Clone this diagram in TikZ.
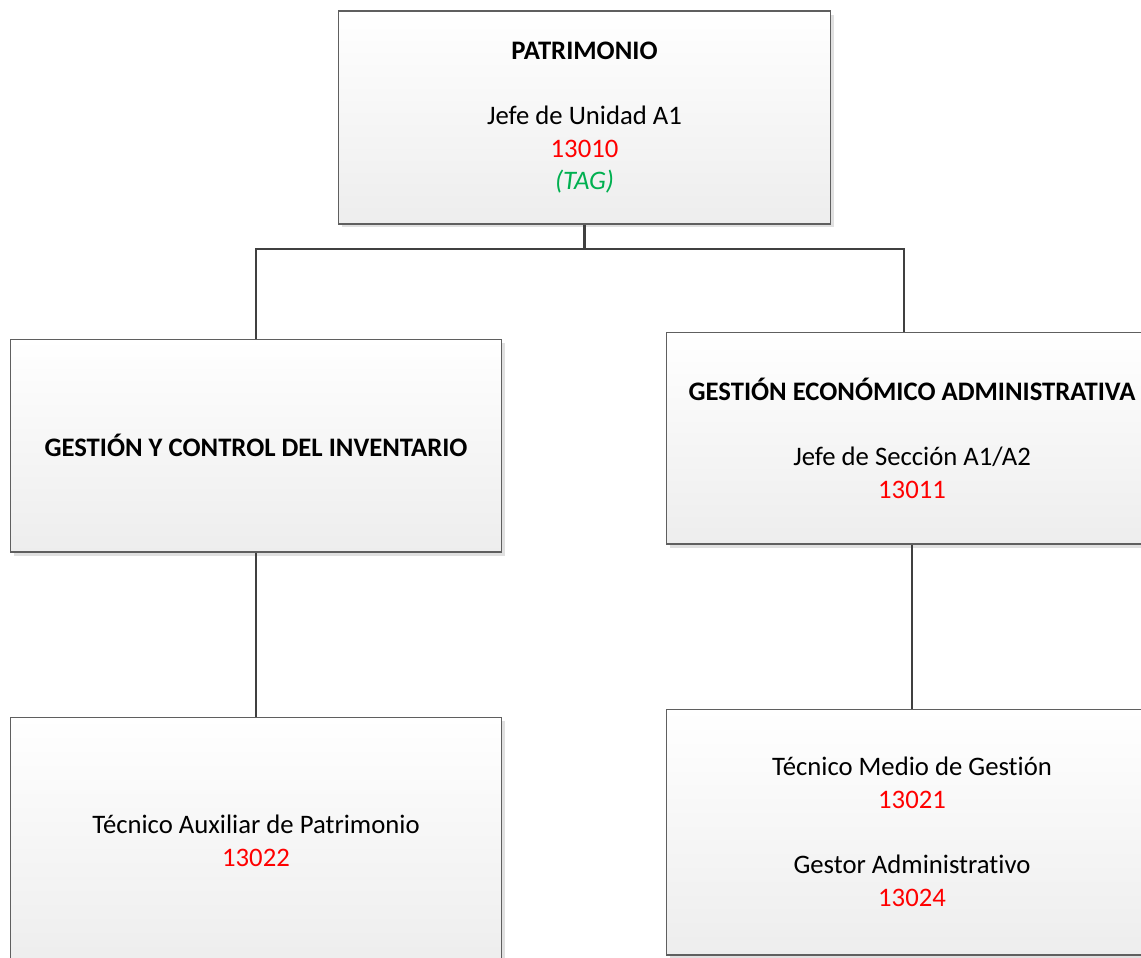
\documentclass[tikz,border=0pt]{standalone}
\usepackage{fontspec}
\setmainfont{Carlito}[Ligatures=NoCommon]
\usetikzlibrary{shadows}
\definecolor{codered}{HTML}{FF0000}
\definecolor{taggreen}{HTML}{00B050}
\definecolor{boxline}{HTML}{5F5F5F}
\definecolor{linkline}{HTML}{404040}
\newcommand{\code}[1]{\textcolor{codered}{#1}}
\begin{document}
\begin{tikzpicture}[
        x=0.02cm, y=-0.02cm,
        unit/.style={draw=boxline, line width=0.6pt, top color=white, bottom color=black!7,
            drop shadow={shadow xshift=2pt, shadow yshift=-2pt, fill=black!12, opacity=1},
            minimum width=9.84cm, minimum height=4.26cm, align=center,
            font=\fontsize{15.2}{18.6}\selectfont},
        link/.style={draw=linkline, line width=1.3pt}
    ]
        \path[use as bounding box, clip] (0,0) rectangle (1141,957);

        \node[unit] (patri) at (584.5,117.5) {\textbf{PATRIMONIO}\\[18.6pt]Jefe de Unidad A1\\\code{13010}\\\textcolor{taggreen}{\textit{(TAG)}}};
        \node[unit] (inv) at (256,445.5) {\textbf{GESTIÓN Y CONTROL DEL INVENTARIO}};
        \node[unit, minimum height=4.24cm] (eco) at (912,438) {\textbf{GESTIÓN ECONÓMICO ADMINISTRATIVA}\\[18.6pt]Jefe de Sección A1/A2\\\code{13011}};
        \node[unit, minimum height=4.96cm] (aux) at (256,841) {Técnico Auxiliar de Patrimonio\\\code{13022}};
        \node[unit, minimum height=4.92cm] (gest) at (912,832) {Técnico Medio de Gestión\\\code{13021}\\[18.6pt]Gestor Administrativo\\\code{13024}};

        \coordinate (bar) at (584.5,249);
        \draw[link] (patri) -- (bar);
        \draw[link] (inv.north) |- (bar) -| ([xshift=-0.16cm]eco.north);
        \draw[link] (inv) -- (aux);
        \draw[link] (eco) -- (gest);
    \end{tikzpicture}
\end{document}
